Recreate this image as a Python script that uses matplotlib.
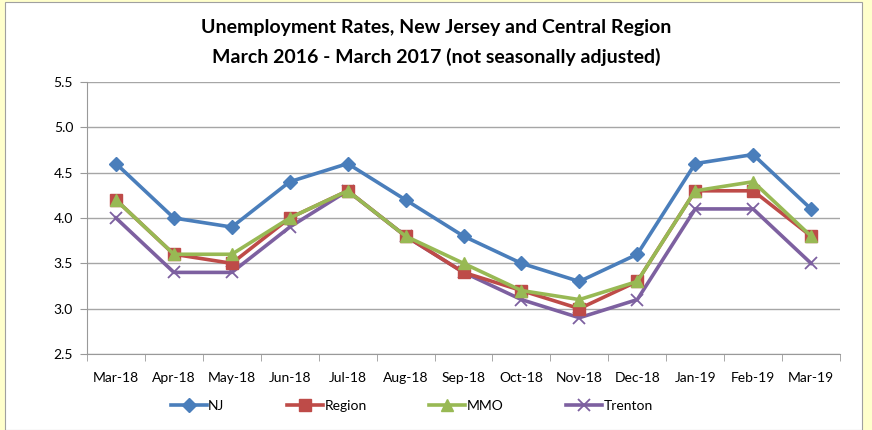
import matplotlib.pyplot as plt
from matplotlib.patches import Rectangle
import numpy as np

# ---------------------------------------------------------------
# data
# ---------------------------------------------------------------
months = ["Mar-18", "Apr-18", "May-18", "Jun-18", "Jul-18", "Aug-18", "Sep-18",
          "Oct-18", "Nov-18", "Dec-18", "Jan-19", "Feb-19", "Mar-19"]
nj = [4.6, 4.0, 3.9, 4.4, 4.6, 4.2, 3.8, 3.5, 3.3, 3.6, 4.6, 4.7, 4.1]
region = [4.2, 3.6, 3.5, 4.0, 4.3, 3.8, 3.4, 3.2, 3.0, 3.3, 4.3, 4.3, 3.8]
mmo = [4.2, 3.6, 3.6, 4.0, 4.3, 3.8, 3.5, 3.2, 3.1, 3.3, 4.3, 4.4, 3.8]
trenton = [4.0, 3.4, 3.4, 3.9, 4.3, 3.8, 3.4, 3.1, 2.9, 3.1, 4.1, 4.1, 3.5]
y_ticks = [2.5, 3.0, 3.5, 4.0, 4.5, 5.0, 5.5]

plt.rcParams['font.family'] = ['Lato', 'DejaVu Sans']

fig = plt.figure(figsize=(8.72, 4.30), dpi=100, facecolor="#FFFFCC")
# white chart area with thin border, yellow margin left/top/right
frame = Rectangle((5 / 872, 0), 857 / 872, 428 / 430, transform=fig.transFigure,
                  facecolor="white", edgecolor="#A0A0A0", lw=0.8, zorder=-10)
fig.add_artist(frame)

ax = fig.add_axes([87 / 872, 76 / 430, 753 / 872, 272 / 430])
ax.set_facecolor("none")

x = np.arange(len(months))
ax.plot(x, nj, color="#4A7EBB", lw=2.6, marker="D", ms=7, label="NJ", zorder=5)
ax.plot(x, region, color="#BE4B48", lw=2.6, marker="s", ms=8, label="Region", zorder=4)
ax.plot(x, mmo, color="#98B954", lw=2.6, marker="^", ms=9, label="MMO", zorder=6)
ax.plot(x, trenton, color="#7D60A0", lw=2.6, marker="x", ms=8, mew=1.3, label="Trenton", zorder=3)

ax.set_xlim(-0.5, len(months) - 0.5)
ax.set_ylim(2.5, 5.5)
ax.set_yticks(y_ticks)
ax.set_yticklabels([f"{v:.1f}" for v in y_ticks], fontsize=10)
ax.set_xticks(x)
ax.set_xticklabels(months, fontsize=10)
ax.tick_params(axis="x", length=0, pad=13)
ax.set_xticks(np.arange(-0.5, len(months)), minor=True)
ax.tick_params(axis="x", which="minor", length=5, color="#999999", direction="out")
ax.tick_params(axis="y", length=5, color="#999999", pad=5)

ax.grid(axis="y", color="#A6A6A6", lw=1)
ax.set_axisbelow(True)
for s in ["top", "right"]:
    ax.spines[s].set_visible(False)
for s in ["left", "bottom"]:
    ax.spines[s].set_color("#999999")

fig.text(0.5, 0.935, "Unemployment Rates, New Jersey and Central Region",
         ha="center", va="center", fontsize=14, fontweight="bold")
fig.text(0.5, 0.868, "March 2016 - March 2017 (not seasonally adjusted)",
         ha="center", va="center", fontsize=14, fontweight="bold")

fig.legend(loc="center", bbox_to_anchor=(0.472, 0.056), ncol=4, frameon=False,
           fontsize=10, handlelength=2.6, handletextpad=0.1, columnspacing=4.5)

fig.savefig("out.png", dpi=100, facecolor=fig.get_facecolor())
